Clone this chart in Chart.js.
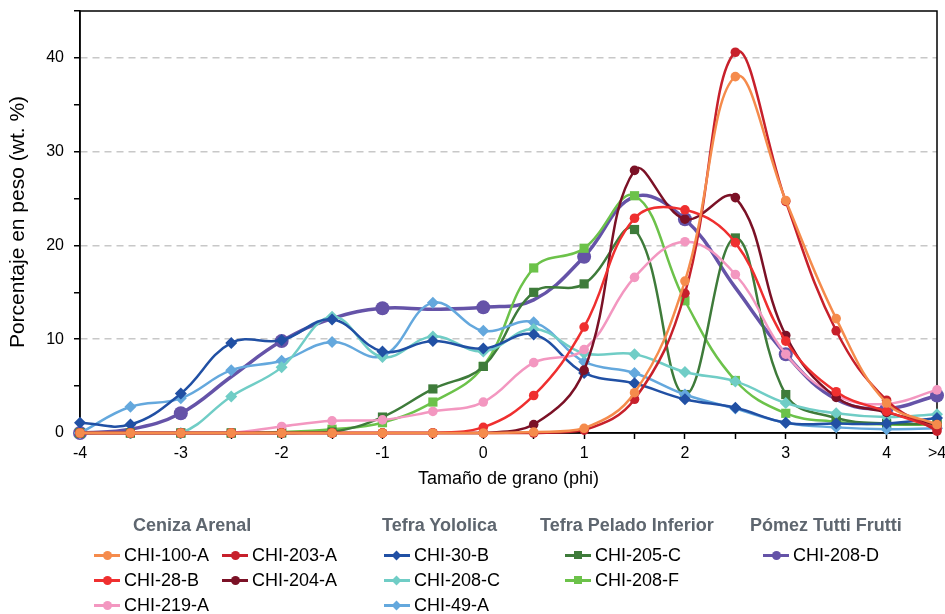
<!DOCTYPE html>
<html lang="es">
<head>
<meta charset="utf-8">
<title>Tamaño de grano</title>
<script src="https://cdn.jsdelivr.net/npm/chart.js@4.4.1/dist/chart.umd.min.js"></script>
<style>
  html, body { margin: 0; padding: 0; background: #fff; }
  #wrap { position: relative; width: 945px; height: 614px; font-family: "Liberation Sans", Arial, sans-serif; }
  #grafico { position: absolute; left: 0; top: 0; }
  .grupo { position: absolute; font-size: 18px; font-weight: bold; color: #5e666f; line-height: 20px; transform: translateY(-50%); white-space: nowrap; }
  .entrada { position: absolute; font-size: 18px; color: #000; line-height: 20px; transform: translateY(-50%); white-space: nowrap; }
  .linea { position: absolute; top: 50%; height: 3px; margin-top: -1.5px; }
  .marca { position: absolute; top: 50%; }
</style>
</head>
<body>
<div id="wrap">
  <canvas id="grafico" width="945" height="614"></canvas>
  <div id="leyenda"></div>
</div>
<script>
// Eje X: tamaño de grano (phi)
const categorias = ['-4', '-3.5', '-3', '-2.5', '-2', '-1.5', '-1', '-0.5', '0', '0.5', '1', '1.5', '2', '2.5', '3', '3.5', '4', '>4'];
const etiquetasX = ['-4', '', '-3', '', '-2', '', '-1', '', '0', '', '1', '', '2', '', '3', '', '4', '>4'];

// Ceniza Arenal
const chi100A = [0, 0, 0, 0, 0, 0, 0, 0, 0, 0.1, 0.5, 4.3, 16.2, 38.0, 24.8, 12.2, 3.2, 0.9];
const chi203A = [0, 0, 0, 0, 0, 0, 0, 0, 0, 0, 0.3, 3.6, 14.9, 40.6, 24.7, 10.9, 3.5, 0.2];
const chi28B = [0, 0, 0, 0, 0, 0, 0, 0, 0.6, 4.0, 11.3, 22.9, 23.8, 20.3, 9.8, 4.4, 2.3, 0.5];
const chi204A = [0, 0, 0, 0, 0, 0, 0, 0, 0, 0.9, 6.7, 28.0, 22.8, 25.1, 10.4, 3.8, 2.2, 0.9];
const chi219A = [0, 0, 0, 0, 0.7, 1.3, 1.4, 2.3, 3.3, 7.5, 8.9, 16.6, 20.4, 16.9, 8.4, 4.0, 3.1, 4.6];

// Tefra Yololica
const chi30B = [1.1, 0.9, 4.2, 9.6, 9.9, 12.1, 8.7, 9.8, 9.0, 10.5, 6.4, 5.3, 3.6, 2.7, 1.1, 1.0, 1.0, 1.6];
const chi208C = [0, 0, 0, 3.9, 7.0, 12.4, 8.1, 10.3, 8.7, 11.1, 8.5, 8.4, 6.5, 5.5, 3.2, 2.1, 1.7, 2.0];
const chi49A = [0, 2.8, 3.7, 6.7, 7.7, 9.7, 8.2, 13.9, 10.9, 11.8, 7.6, 6.4, 4.1, 2.6, 1.1, 0.6, 0.4, 0.5];

// Tefra Pelado Inferior
const chi205C = [0, 0, 0, 0, 0, 0.1, 1.7, 4.7, 7.1, 15.0, 15.9, 21.7, 4.1, 20.8, 4.1, 1.6, 1.0, 1.0];
const chi208F = [0, 0, 0, 0, 0.1, 0.4, 1.1, 3.3, 7.1, 17.6, 19.7, 25.3, 14.1, 5.6, 2.1, 1.2, 0.9, 0.9];

// Pómez Tutti Frutti
const chi208D = [0, 0.4, 2.1, 6.0, 9.8, 12.2, 13.3, 13.2, 13.4, 14.2, 18.8, 25.2, 22.8, 15.5, 8.4, 3.6, 2.6, 4.0];

// Series con su estilo
const series = [
  { label: 'CHI-100-A', data: chi100A, color: '#f58b4c', forma: 'circle' },
  { label: 'CHI-203-A', data: chi203A, color: '#c7202b', forma: 'circle' },
  { label: 'CHI-28-B', data: chi28B, color: '#ef2f2f', forma: 'circle' },
  { label: 'CHI-204-A', data: chi204A, color: '#7b1126', forma: 'circle' },
  { label: 'CHI-219-A', data: chi219A, color: '#f397c0', forma: 'circle' },
  { label: 'CHI-30-B', data: chi30B, color: '#2150a4', forma: 'rectRot' },
  { label: 'CHI-208-C', data: chi208C, color: '#70cdc6', forma: 'rectRot' },
  { label: 'CHI-49-A', data: chi49A, color: '#64a8dd', forma: 'rectRot' },
  { label: 'CHI-205-C', data: chi205C, color: '#3e7b3a', forma: 'rect' },
  { label: 'CHI-208-F', data: chi208F, color: '#6cc24a', forma: 'rect' },
  { label: 'CHI-208-D', data: chi208D, color: '#6553a8', forma: 'circle', grande: true }
];

// Grupos de la leyenda
const grupos = [
  { nombre: 'Ceniza Arenal', x: 133, columnas: [
    { x: 94, filas: ['CHI-100-A', 'CHI-28-B', 'CHI-219-A'] },
    { x: 222, filas: ['CHI-203-A', 'CHI-204-A'] }
  ] },
  { nombre: 'Tefra Yololica', x: 382, columnas: [
    { x: 384, filas: ['CHI-30-B', 'CHI-208-C', 'CHI-49-A'] }
  ] },
  { nombre: 'Tefra Pelado Inferior', x: 540, columnas: [
    { x: 565, filas: ['CHI-205-C', 'CHI-208-F'] }
  ] },
  { nombre: 'Pómez Tutti Frutti', x: 750, columnas: [
    { x: 763, filas: ['CHI-208-D'] }
  ] }
];

const radioMarca = { circle: 4.8, rectRot: 6, rect: 6.5 };

// Marco alrededor del área de trazado
const marco = {
  id: 'marco',
  beforeDatasetsDraw(chart) {
    const a = chart.chartArea;
    const ctx = chart.ctx;
    ctx.save();
    ctx.strokeStyle = '#000';
    ctx.lineWidth = 1.5;
    ctx.strokeRect(a.left, a.top, a.right - a.left, a.bottom - a.top);
    ctx.restore();
  }
};

const datasets = series.map(s => ({
  label: s.label,
  data: s.data,
  borderColor: s.color,
  backgroundColor: s.color,
  borderWidth: s.grande ? 3.5 : 2.5,
  pointStyle: s.forma,
  pointRadius: s.grande
    ? (ctx => (ctx.dataIndex % 2 === 0 || ctx.dataIndex === categorias.length - 1) ? 7 : 0)
    : radioMarca[s.forma],
  pointBorderWidth: 0,
  tension: 0.4,
  clip: false
}));

new Chart(document.getElementById('grafico'), {
  type: 'line',
  data: { labels: categorias, datasets: datasets },
  plugins: [marco],
  options: {
    responsive: false,
    animation: false,
    layout: { padding: { top: 11, right: 8, bottom: 124, left: 0 } },
    plugins: {
      legend: { display: false },
      tooltip: { enabled: false }
    },
    scales: {
      x: {
        grid: { drawOnChartArea: false, tickLength: 6, tickColor: '#000', tickWidth: 1.5 },
        border: { color: '#000', width: 1.5 },
        ticks: {
          autoSkip: false,
          maxRotation: 0,
          padding: 5,
          color: '#000',
          font: { family: 'Liberation Sans', size: 16 },
          callback: (v, i) => etiquetasX[i]
        },
        title: {
          display: true,
          text: 'Tamaño de grano (phi)',
          color: '#000',
          font: { family: 'Liberation Sans', size: 18 },
          padding: { top: 0, bottom: 0 }
        },
        afterFit: s => { s.height = 57; s.paddingLeft = 0; s.paddingRight = 0; }
      },
      y: {
        min: 0,
        max: 45,
        grid: {
          color: ctx => (ctx.tick && ctx.tick.value % 10 === 0 && ctx.tick.value > 0) ? '#c8c8c8' : 'transparent',
          lineWidth: 1.5,
          tickLength: 6,
          tickColor: '#000',
          tickWidth: 1.5
        },
        border: { color: '#000', width: 1.5, dash: [7, 5] },
        ticks: {
          stepSize: 5,
          padding: 10,
          color: '#000',
          font: { family: 'Liberation Sans', size: 16 },
          callback: v => (v % 10 === 0 ? v : '')
        },
        title: {
          display: true,
          text: 'Porcentaje en peso (wt. %)',
          color: '#000',
          font: { family: 'Liberation Sans', size: 21 },
          padding: { top: 6, bottom: 0 }
        },
        afterFit: s => { s.width = 80; s.paddingTop = 0; s.paddingBottom = 0; }
      }
    }
  }
});

// Leyenda agrupada en HTML
function marcaHTML(s) {
  if (s.forma === 'rectRot') {
    return '<span class="marca" style="left:9px;width:7px;height:7px;margin-top:-3.5px;background:' + s.color + ';transform:rotate(45deg)"></span>';
  }
  if (s.forma === 'rect') {
    return '<span class="marca" style="left:9px;width:8px;height:8px;margin-top:-4px;background:' + s.color + '"></span>';
  }
  return '<span class="marca" style="left:9px;width:9px;height:9px;margin-top:-4.5px;border-radius:50%;background:' + s.color + '"></span>';
}

const leyenda = document.getElementById('leyenda');
let html = '';
grupos.forEach(g => {
  html += '<div class="grupo" style="left:' + g.x + 'px;top:525px">' + g.nombre + '</div>';
  g.columnas.forEach(c => {
    c.filas.forEach((nombre, i) => {
      const s = series.find(d => d.label === nombre);
      html += '<div class="entrada" style="left:' + c.x + 'px;top:' + (555 + i * 25) + 'px;padding-left:30px">' +
        '<span class="linea" style="left:0;width:26px;background:' + s.color + '"></span>' +
        marcaHTML(s) + nombre + '</div>';
    });
  });
});
leyenda.innerHTML = html;
</script>
</body>
</html>
